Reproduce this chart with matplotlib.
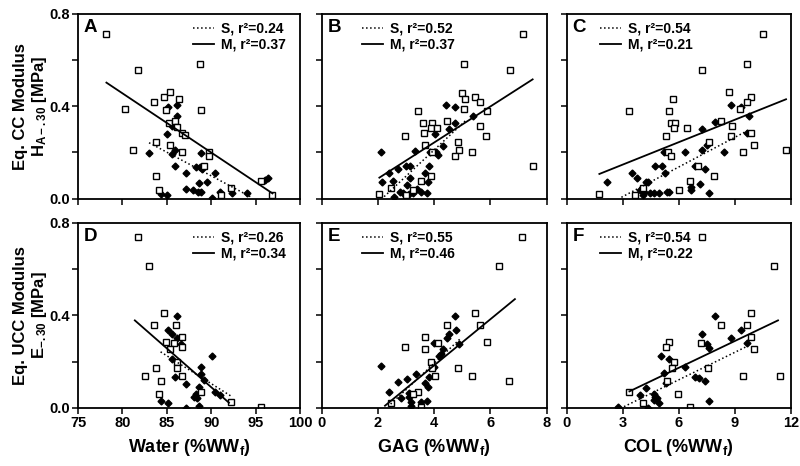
import matplotlib.pyplot as plt
from matplotlib.lines import Line2D

plt.rcParams['font.family'] = ['Liberation Sans', 'DejaVu Sans']
plt.rcParams['font.weight'] = 'bold'
plt.rcParams['axes.labelweight'] = 'bold'
plt.rcParams['mathtext.fontset'] = 'custom'
plt.rcParams['mathtext.rm'] = 'Liberation Sans:bold'
plt.rcParams['mathtext.it'] = 'Liberation Sans:bold'
plt.rcParams['mathtext.bf'] = 'Liberation Sans:bold'

# ---- panel A : water vs HA  (M = open squares, S = diamonds)
a_m_x = [78.2, 81.8, 88.7, 80.3, 83.6, 84.7, 85.4, 86.4, 84.9, 88.8, 85.3, 85.9, 86.1, 86.7,
         87.1, 83.8, 85.4, 81.2, 86.7, 89.7, 89.7, 89.2, 83.8, 84.1, 91.1, 92.2, 95.6, 96.9]
a_m_y = [0.712, 0.558, 0.581, 0.389, 0.419, 0.441, 0.460, 0.430, 0.382, 0.382, 0.327, 0.337, 0.311, 0.285,
         0.274, 0.245, 0.231, 0.212, 0.200, 0.203, 0.185, 0.143, 0.097, 0.037, 0.016, 0.048, 0.076, 0.017]
a_s_x = [85.1, 86.1, 86.2, 85.6, 85.0, 83.0, 85.6, 85.9, 88.9, 88.3, 88.7, 89.0, 87.2, 90.4, 85.9,
         89.5, 88.6, 87.2, 87.9, 88.5, 88.9, 84.4, 85.0, 90.1, 91.0, 92.3, 94.0, 96.1, 96.4]
a_s_y = [0.398, 0.404, 0.357, 0.314, 0.280, 0.199, 0.192, 0.210, 0.199, 0.138, 0.138, 0.127, 0.110, 0.110, 0.140,
         0.074, 0.069, 0.042, 0.037, 0.030, 0.030, 0.020, 0.017, 0.003, 0.030, 0.026, 0.023, 0.081, 0.091]
a_mfit_x, a_mfit_y = [78.2, 96.9], [0.502, 0.023]
a_sfit_x, a_sfit_y = [83.0, 94.4], [0.242, 0.009]

# ---- panel B : GAG vs HA
b_m_x = [7.17, 5.06, 6.71, 7.50, 3.42, 4.98, 5.11, 5.44, 5.62, 5.05, 5.86, 3.59, 3.92, 4.47, 3.64, 3.87,
         4.11, 2.96, 5.62, 5.83, 3.66, 4.85, 4.87, 4.73, 5.33, 3.92, 3.87, 3.54, 2.05, 2.45, 3.00, 3.23]
b_m_y = [0.711, 0.581, 0.558, 0.143, 0.381, 0.458, 0.430, 0.441, 0.418, 0.389, 0.381, 0.329, 0.329, 0.337, 0.285, 0.306,
         0.306, 0.271, 0.314, 0.271, 0.231, 0.245, 0.210, 0.185, 0.200, 0.202, 0.098, 0.076, 0.020, 0.048, 0.014, 0.037]
b_s_x = [2.10, 2.14, 2.40, 2.55, 2.70, 3.00, 3.14, 3.33, 3.14, 3.02, 2.79, 2.90, 3.09, 3.23, 3.38, 3.52,
         3.73, 2.57, 3.68, 3.78, 3.80, 3.85, 4.04, 4.14, 4.30, 4.51, 4.42, 4.75, 4.75, 5.39, 4.06]
b_s_y = [0.202, 0.074, 0.110, 0.075, 0.127, 0.140, 0.140, 0.208, 0.091, 0.061, 0.030, 0.026, 0.020, 0.026, 0.043, 0.030,
         0.026, 0.006, 0.110, 0.072, 0.140, 0.202, 0.280, 0.187, 0.228, 0.300, 0.405, 0.396, 0.329, 0.357, 0.202]
b_mfit_x, b_mfit_y = [2.05, 7.50], [0.091, 0.516]
b_sfit_x, b_sfit_y = [2.22, 5.11], [0.009, 0.337]

# ---- panel C : COL vs HA
c_m_x = [10.54, 9.68, 7.25, 3.36, 5.68, 5.46, 5.61, 5.82, 5.75, 6.43, 8.71, 9.86, 9.68, 9.29, 8.29, 8.86,
         9.89, 8.82, 5.32, 5.43, 5.57, 7.61, 10.04, 9.43, 11.73, 7.04, 7.89, 6.61, 6.00, 4.07, 3.68, 1.71]
c_m_y = [0.711, 0.581, 0.558, 0.381, 0.430, 0.381, 0.327, 0.327, 0.306, 0.306, 0.460, 0.441, 0.418, 0.389, 0.337, 0.314,
         0.285, 0.271, 0.271, 0.202, 0.185, 0.245, 0.231, 0.200, 0.212, 0.143, 0.098, 0.076, 0.037, 0.048, 0.016, 0.019]
c_s_x = [2.14, 3.50, 3.79, 4.25, 4.36, 3.93, 4.14, 4.46, 4.68, 4.93, 4.07, 5.36, 5.50, 4.71, 5.11, 5.29, 5.21,
         6.32, 6.89, 7.43, 6.68, 6.68, 7.14, 7.61, 7.25, 7.25, 7.54, 7.93, 8.43, 8.82, 9.64, 9.75, 9.36]
c_s_y = [0.074, 0.110, 0.091, 0.074, 0.074, 0.037, 0.030, 0.023, 0.026, 0.023, 0.014, 0.030, 0.030, 0.141, 0.141, 0.110, 0.202,
         0.202, 0.141, 0.127, 0.052, 0.037, 0.063, 0.023, 0.210, 0.300, 0.231, 0.332, 0.203, 0.404, 0.283, 0.357, 0.398]
c_mfit_x, c_mfit_y = [1.75, 11.75], [0.107, 0.430]
c_sfit_x, c_sfit_y = [2.93, 9.82], [0.006, 0.300]

# ---- panel D : water vs E
d_m_x = [81.8, 83.0, 84.7, 83.6, 86.0, 86.7, 84.9, 85.8, 86.7, 85.4, 86.2, 86.1, 83.8, 82.5, 84.4, 86.7,
         84.1, 88.9, 92.2, 95.6]
d_m_y = [0.739, 0.612, 0.411, 0.359, 0.359, 0.307, 0.284, 0.280, 0.261, 0.254, 0.199, 0.170, 0.174, 0.139, 0.118, 0.137,
         0.058, 0.069, 0.025, 0.004]
d_s_x = [86.1, 85.1, 85.6, 86.2, 86.6, 85.6, 85.9, 87.2, 88.9, 88.9, 89.2, 88.6, 88.3, 88.1, 88.4, 90.1,
         90.4, 91.0, 84.4, 85.1, 87.2, 88.6]
d_s_y = [0.395, 0.337, 0.318, 0.300, 0.277, 0.210, 0.132, 0.103, 0.178, 0.147, 0.121, 0.089, 0.060, 0.048, 0.043, 0.226,
         0.070, 0.056, 0.030, 0.022, 0.000, 0.008]
d_mfit_x, d_mfit_y = [81.4, 92.0], [0.378, 0.022]
d_sfit_x, d_sfit_y = [84.3, 92.3], [0.242, 0.049]

# ---- panel E : GAG vs E
e_m_x = [7.12, 6.32, 2.96, 3.66, 3.69, 4.47, 4.14, 5.44, 5.63, 5.86, 3.87, 3.92, 4.04, 4.85, 5.34, 6.65,
         3.42, 3.23, 2.45, 3.54]
e_m_y = [0.739, 0.612, 0.261, 0.307, 0.254, 0.359, 0.280, 0.409, 0.359, 0.284, 0.199, 0.170, 0.139, 0.174, 0.137, 0.118,
         0.070, 0.060, 0.022, 0.005]
e_s_x = [2.10, 2.40, 2.72, 2.81, 3.05, 3.35, 3.11, 3.11, 3.16, 3.16, 3.52, 3.73, 3.68, 3.78, 3.80, 3.99,
         4.16, 4.23, 4.30, 3.99, 4.44, 4.51, 4.77, 4.75, 4.87]
e_s_y = [0.180, 0.069, 0.113, 0.041, 0.123, 0.147, 0.063, 0.045, 0.027, 0.008, 0.025, 0.028, 0.106, 0.089, 0.135, 0.178,
         0.222, 0.233, 0.256, 0.280, 0.301, 0.317, 0.337, 0.396, 0.275]
e_mfit_x, e_mfit_y = [2.25, 6.87], [0.009, 0.470]
e_sfit_x, e_sfit_y = [2.45, 4.94], [0.016, 0.300]

# ---- panel F : COL vs E
f_m_x = [7.25, 11.11, 9.86, 9.68, 8.29, 9.89, 10.04, 7.21, 5.46, 5.32, 5.75, 5.64, 5.36, 7.57, 9.43, 11.43,
         3.36, 4.07, 5.96, 6.61]
f_m_y = [0.739, 0.612, 0.409, 0.359, 0.359, 0.307, 0.254, 0.280, 0.284, 0.261, 0.199, 0.170, 0.118, 0.174, 0.137, 0.139,
         0.069, 0.022, 0.058, 0.005]
f_s_x = [2.75, 3.93, 4.25, 4.68, 4.75, 4.68, 4.93, 4.82, 4.36, 5.07, 5.21, 5.32, 5.50, 6.32, 6.89, 7.11,
         7.43, 7.25, 7.50, 7.61, 7.61, 7.93, 8.82, 9.36, 9.64]
f_s_y = [0.005, 0.054, 0.087, 0.060, 0.048, 0.034, 0.022, 0.041, 0.000, 0.225, 0.150, 0.106, 0.213, 0.178, 0.135, 0.127,
         0.115, 0.320, 0.277, 0.257, 0.031, 0.395, 0.300, 0.337, 0.280]
f_mfit_x, f_mfit_y = [3.36, 11.32], [0.071, 0.378]
f_sfit_x, f_sfit_y = [3.07, 9.64], [0.005, 0.265]

letters = ['A', 'B', 'C', 'D', 'E', 'F']
r2_s = ['0.24', '0.52', '0.54', '0.26', '0.55', '0.54']
r2_m = ['0.37', '0.37', '0.21', '0.34', '0.46', '0.22']
x_limits = [(75, 100), (0, 8), (0, 12)]
x_ticks = [[75, 80, 85, 90, 95, 100], [0, 2, 4, 6, 8], [0, 3, 6, 9, 12]]
x_labels = ['Water (%WW$_f$)', 'GAG (%WW$_f$)', 'COL (%WW$_f$)']
y_labels = ['Eq. CC Modulus\nH$_{A-.30}$ [MPa]', 'Eq. UCC Modulus\nE$_{-.30}$ [MPa]']

panels = [
    (a_m_x, a_m_y, a_s_x, a_s_y, a_mfit_x, a_mfit_y, a_sfit_x, a_sfit_y),
    (b_m_x, b_m_y, b_s_x, b_s_y, b_mfit_x, b_mfit_y, b_sfit_x, b_sfit_y),
    (c_m_x, c_m_y, c_s_x, c_s_y, c_mfit_x, c_mfit_y, c_sfit_x, c_sfit_y),
    (d_m_x, d_m_y, d_s_x, d_s_y, d_mfit_x, d_mfit_y, d_sfit_x, d_sfit_y),
    (e_m_x, e_m_y, e_s_x, e_s_y, e_mfit_x, e_mfit_y, e_sfit_x, e_sfit_y),
    (f_m_x, f_m_y, f_s_x, f_s_y, f_mfit_x, f_mfit_y, f_sfit_x, f_sfit_y),
]

fig = plt.figure(figsize=(8, 4.66), dpi=100)
lefts = [78 / 800, 321.7 / 800, 566.7 / 800]
widths = [222 / 800, 225 / 800, 224 / 800]
bottoms = [1 - 198.7 / 466, 1 - 407.8 / 466]
height = 185 / 466
legend_x = [0.518, 0.18, 0.15]

for i, (mx, my, sx, sy, mfx, mfy, sfx, sfy) in enumerate(panels):
    row, col = divmod(i, 3)
    ax = fig.add_axes([lefts[col], bottoms[row], widths[col], height])

    ax.plot(sx, sy, 'D', color='black', ms=3.5, ls='none')
    ax.plot(mx, my, 's', mfc='white', mec='black', mew=1.0, ms=4.7, ls='none')
    ax.plot(sfx, sfy, color='black', ls=':', lw=1.1)
    ax.plot(mfx, mfy, color='black', ls='-', lw=1.3)

    ax.set_xlim(*x_limits[col])
    ax.set_ylim(0, 0.8)
    ax.set_xticks(x_ticks[col])
    ax.set_yticks([0, 0.2, 0.4, 0.6, 0.8])
    if col == 0:
        ax.set_yticklabels(['0.0', '', '0.4', '', '0.8'])
    else:
        ax.set_yticklabels([])
    if row == 1:
        ax.set_xlabel(x_labels[col], fontsize=13, labelpad=5)
    else:
        ax.set_xticklabels([])
    ax.tick_params(direction='out', length=4, width=1.1, labelsize=10.5, pad=2)
    for sp in ax.spines.values():
        sp.set_linewidth(1.3)

    ax.text(0.025, 0.97, letters[i], transform=ax.transAxes, fontsize=13.5,
            fontweight='bold', va='top', ha='left')

    handles = [Line2D([], [], color='black', ls=':', lw=1.1),
               Line2D([], [], color='black', ls='-', lw=1.3)]
    ax.legend(handles, ['S, r\u00b2=' + r2_s[i], 'M, r\u00b2=' + r2_m[i]],
              loc='upper left', bbox_to_anchor=(legend_x[col], 0.958),
              frameon=False, fontsize=10, handlelength=1.5, handletextpad=0.5,
              borderpad=0.0, borderaxespad=0.0, labelspacing=0.15)

for row in range(2):
    yc = bottoms[row] + height / 2
    fig.text(31 / 800, yc, y_labels[row], rotation=90, ha='center', va='center',
             fontsize=12, fontweight='bold', linespacing=1.1, multialignment='center')

fig.savefig('out.png', dpi=100)
